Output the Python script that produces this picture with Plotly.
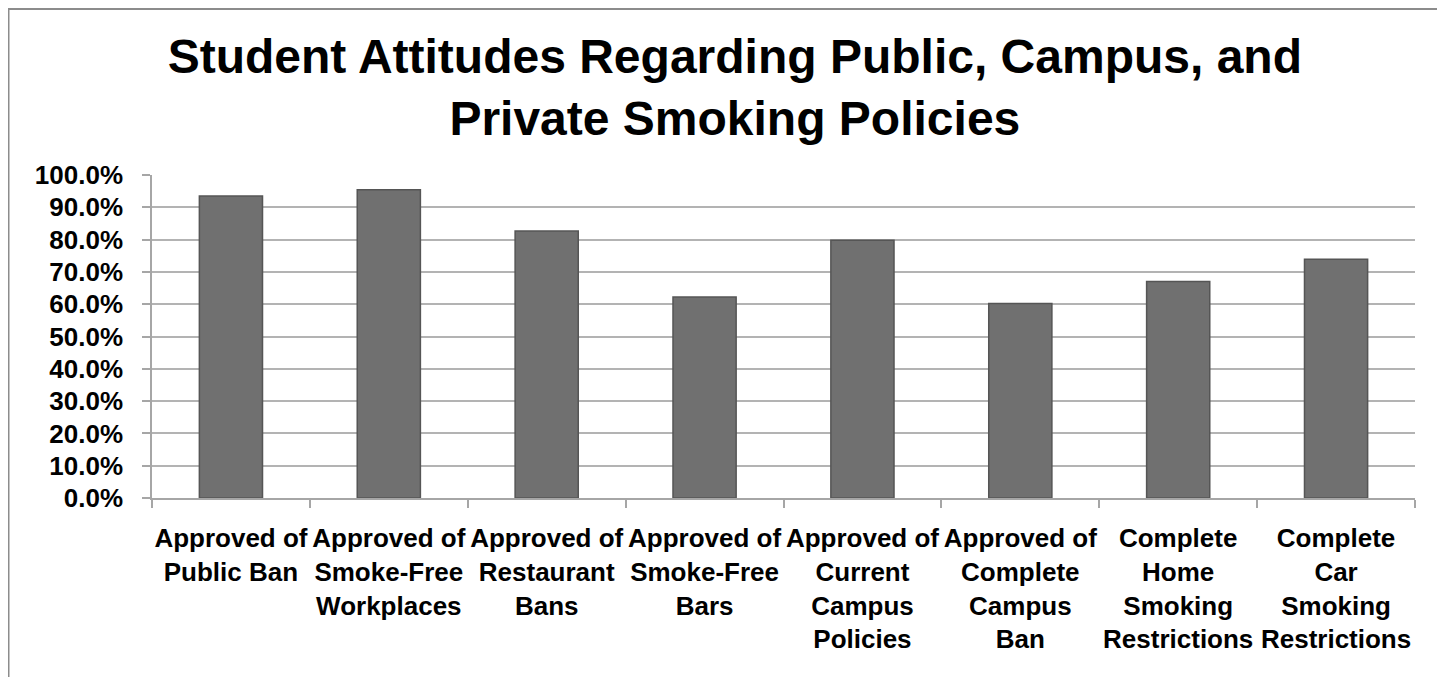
import plotly.graph_objects as go

categories = [
    "Approved of<br>Public Ban",
    "Approved of<br>Smoke-Free<br>Workplaces",
    "Approved of<br>Restaurant<br>Bans",
    "Approved of<br>Smoke-Free<br>Bars",
    "Approved of<br>Current<br>Campus<br>Policies",
    "Approved of<br>Complete<br>Campus<br>Ban",
    "Complete<br>Home<br>Smoking<br>Restrictions",
    "Complete<br>Car<br>Smoking<br>Restrictions",
]
values = [0.935, 0.954, 0.827, 0.622, 0.798, 0.602, 0.670, 0.739]
y_ticks = [0, 0.1, 0.2, 0.3, 0.4, 0.5, 0.6, 0.7, 0.8, 0.9, 1.0]

title_text = "Student Attitudes Regarding Public, Campus, and<br>Private Smoking Policies"

FONT = "Liberation Sans, Arial, sans-serif"

fig = go.Figure(
    go.Bar(
        x=categories,
        y=values,
        width=0.4,
        marker=dict(color="#707070", line=dict(color="#555555", width=1.5)),
    )
)

W, H = 1445, 677
ml, mr, mt, mb = 144, 38, 167, 187
pw, ph = W - ml - mr, H - mt - mb

fig.update_layout(
    width=W,
    height=H,
    margin=dict(l=ml, r=mr, t=mt, b=mb),
    paper_bgcolor="white",
    plot_bgcolor="white",
    showlegend=False,
    font=dict(family=FONT, color="black"),
    title=dict(
        text="<b>" + title_text + "</b>",
        font=dict(family=FONT, size=48, color="black"),
        x=0.503,
        xref="container",
        xanchor="center",
        y=0.904,
        yref="container",
        yanchor="middle",
    ),
    bargap=0.6,
)

fig.update_xaxes(
    showline=True,
    linecolor="#a6a6a6",
    linewidth=1.5,
    ticks="outside",
    tickson="boundaries",
    ticklen=8,
    tickcolor="#a6a6a6",
    tickwidth=1.5,
    tickfont=dict(family=FONT, size=26, color="black", weight="bold"),
    tickangle=0,
    ticklabelstandoff=16,
    showgrid=False,
)
fig.update_yaxes(
    range=[0, 1.0],
    tickvals=y_ticks,
    tickformat=".1%",
    showline=True,
    linecolor="#a6a6a6",
    linewidth=1.5,
    ticks="outside",
    ticklen=8,
    tickcolor="#a6a6a6",
    tickwidth=1.5,
    showgrid=True,
    gridcolor="#b3b3b3",
    gridwidth=1.5,
    tickfont=dict(family=FONT, size=26, color="black", weight="bold"),
    ticklabelstandoff=14,
    zeroline=False,
)

# chart frame (top, left, right edges)
def px_x(px):
    return (px - ml) / pw

def px_y(py):
    return (H - mb - py) / ph

fig.add_shape(type="line", xref="paper", yref="paper",
              x0=px_x(0), x1=px_x(1434), y0=px_y(1), y1=px_y(1),
              line=dict(color="#8c8c8c", width=2))
fig.add_shape(type="line", xref="paper", yref="paper",
              x0=px_x(0.75), x1=px_x(0.75), y0=px_y(1), y1=px_y(677),
              line=dict(color="#8c8c8c", width=1.5))
fig.add_shape(type="line", xref="paper", yref="paper",
              x0=px_x(1434), x1=px_x(1434), y0=px_y(1), y1=px_y(677),
              line=dict(color="#bfbfbf", width=1.5))

fig.write_html("out.html")
